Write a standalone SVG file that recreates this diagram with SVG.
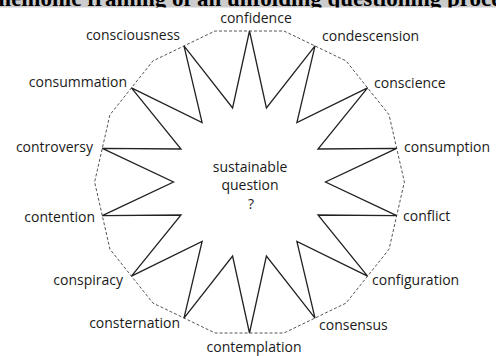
<svg xmlns="http://www.w3.org/2000/svg" width="496" height="356" viewBox="0 0 496 356">
<defs>
<clipPath id="tclip"><rect x="0" y="0" width="496" height="7.5"/></clipPath>
<style>
.lbl{font-family:"Open Sans","Noto Sans","DejaVu Sans",sans-serif;font-size:14px;fill:#1a1a1a}
.st{text-anchor:start}.en{text-anchor:end}.mi{text-anchor:middle}
.star{fill:none;stroke:#222;stroke-width:1.3;stroke-linejoin:miter}
.frame{fill:none;stroke:#555;stroke-width:1;stroke-dasharray:3 2}
.title{font-family:"Liberation Serif","Times New Roman",serif;font-weight:bold;font-size:23px;fill:#000;text-anchor:middle}
</style>
</defs>
<rect width="496" height="356" fill="#fff"/>
<g id="title">
<rect x="0" y="0" width="496" height="7.5" fill="#cccccc"/>
<g clip-path="url(#tclip)"><text class="title" x="248" y="6">Mnemonic framing of an unfolding questioning process</text></g>
</g>
<g id="connectors">
<polygon class="frame" points="283.96,31 346.07,60.92 389.05,114.8 404.38,182 389.05,249.2 346.07,303.08 283.96,333 215.04,333 152.93,303.08 109.95,249.2 94.62,182 109.95,114.8 152.93,60.92 215.04,31"/>
<polygon class="star" points="249.5,31 266.41,107.91 315.02,45.95 296.89,122.58 367.55,87.85 317.98,149.02 396.71,148.4 325.5,182 396.71,215.6 317.98,214.98 367.55,276.15 296.89,241.42 315.02,318.05 266.41,256.09 249.5,333 232.59,256.09 183.98,318.05 202.11,241.42 131.45,276.15 181.02,214.98 102.29,215.6 173.5,182 102.29,148.4 181.02,149.02 131.45,87.85 202.11,122.58 183.98,45.95 232.59,107.91"/>
</g>
<g id="center"><text class="lbl mi" x="250" y="172">sustainable</text><text class="lbl mi" x="250" y="190">question</text><text class="lbl mi" x="251" y="209">?</text></g>
<g id="n-confidence"><text class="lbl mi" x="256" y="23">confidence</text></g>
<g id="n-condescension"><text class="lbl st" x="322" y="41">condescension</text></g>
<g id="n-conscience"><text class="lbl st" x="374" y="88">conscience</text></g>
<g id="n-consumption"><text class="lbl st" x="404" y="152">consumption</text></g>
<g id="n-conflict"><text class="lbl st" x="403" y="221">conflict</text></g>
<g id="n-configuration"><text class="lbl st" x="372" y="285">configuration</text></g>
<g id="n-consensus"><text class="lbl st" x="319" y="330">consensus</text></g>
<g id="n-contemplation"><text class="lbl mi" x="254" y="352">contemplation</text></g>
<g id="n-consternation"><text class="lbl en" x="180" y="328">consternation</text></g>
<g id="n-conspiracy"><text class="lbl en" x="123" y="285">conspiracy</text></g>
<g id="n-contention"><text class="lbl en" x="95" y="222">contention</text></g>
<g id="n-controversy"><text class="lbl en" x="93" y="152">controversy</text></g>
<g id="n-consummation"><text class="lbl en" x="127" y="87">consummation</text></g>
<g id="n-consciousness"><text class="lbl en" x="180" y="40">consciousness</text></g>
</svg>
